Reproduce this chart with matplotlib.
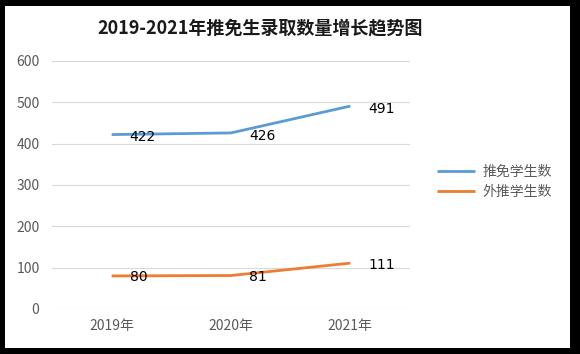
import matplotlib.pyplot as plt
from matplotlib.patches import Rectangle

plt.rcParams['font.family'] = ['Noto Sans CJK SC', 'DejaVu Sans']

# data
years = ['2019年', '2020年', '2021年']
tuimian = [422, 426, 491]
waitui = [80, 81, 111]
series_names = ['推免学生数', '外推学生数']
yticks = [0, 100, 200, 300, 400, 500, 600]

W, H = 580, 354
fig = plt.figure(figsize=(W / 100, H / 100), dpi=100, facecolor='black')

# white chart area inside the black frame
fig.patches.append(Rectangle((5 / W, 6 / H), 565 / W, 342 / H,
                             transform=fig.transFigure, facecolor='white',
                             edgecolor='none', zorder=-10))

ax = fig.add_axes([52 / W, 45 / H, 358 / W, 248 / H])
ax.set_zorder(1)
ax.set_facecolor('white')

x = range(len(years))
blue, orange = '#5B9BD5', '#ED7D31'
ax.plot(x, tuimian, color=blue, lw=2.0, label=series_names[0], solid_capstyle='butt')
ax.plot(x, waitui, color=orange, lw=2.0, label=series_names[1], solid_capstyle='butt')

for i, v in enumerate(tuimian):
    ax.annotate(str(v), (i, v), xytext=(13, -2), textcoords='offset points',
                ha='left', va='center', fontsize=10, color='black',
                family='DejaVu Sans')
for i, v in enumerate(waitui):
    ax.annotate(str(v), (i, v), xytext=(13, -1), textcoords='offset points',
                ha='left', va='center', fontsize=10, color='black',
                family='DejaVu Sans')

ax.set_xlim(-0.5, 2.5)
ax.set_ylim(0, 600)
ax.set_yticks(yticks)
ax.set_xticks(list(x))
ax.set_xticklabels(years)
ax.grid(axis='y', color='#D9D9D9', lw=0.8)
ax.set_axisbelow(True)
for s in ax.spines.values():
    s.set_visible(False)
ax.tick_params(length=0, colors='#595959', labelsize=10)
ax.tick_params(axis='y', pad=9)
ax.tick_params(axis='x', pad=7)

fig.text(260 / W, 1 - 28 / H, '2019-2021年推免生录取数量增长趋势图',
         ha='center', va='center', fontsize=13, fontweight='bold', color='#1a1a1a')

fig.legend(loc='center left', bbox_to_anchor=(424 / W, 1 - 182 / H),
           frameon=False, fontsize=10, handlelength=2.8, handletextpad=0.5,
           labelspacing=0.4, labelcolor='#595959')

fig.savefig('out.png', dpi=100, facecolor='black')
